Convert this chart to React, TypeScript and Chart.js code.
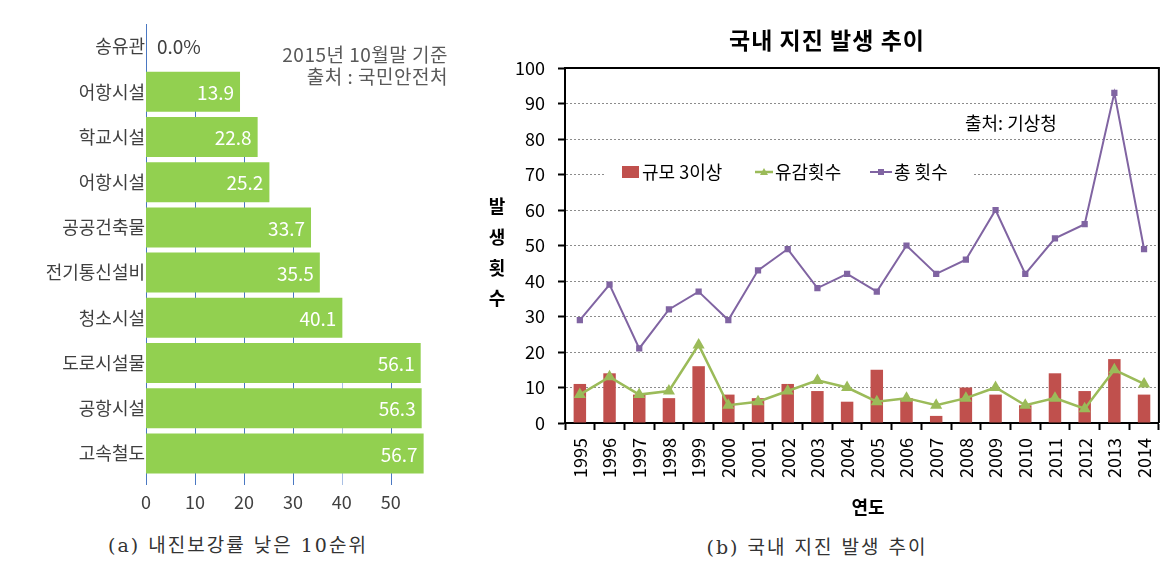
import React, { useEffect, useRef } from "react";
import { Chart, registerables } from "chart.js";

Chart.register(...registerables);

// ---------- Data: (a) 내진보강률 낮은 10순위 ----------
const facilityLabels = [
  "송유관",
  "어항시설",
  "학교시설",
  "어항시설",
  "공공건축물",
  "전기통신설비",
  "청소시설",
  "도로시설물",
  "공항시설",
  "고속철도",
];
// bar lengths as drawn in the reference picture
const reinforcementRates = [0, 19.2, 22.8, 25.2, 33.7, 35.5, 40.1, 56.1, 56.3, 56.7];
// value texts printed on the bars in the reference
const rateLabels = ["0.0%", "13.9", "22.8", "25.2", "33.7", "35.5", "40.1", "56.1", "56.3", "56.7"];
const rateTicks = [0, 10, 20, 30, 40, 50];
const leftNotes = ["2015년 10월말 기준", "출처 : 국민안전처"];
const leftCaption = "(a) 내진보강률 낮은 10순위";

// ---------- Data: (b) 국내 지진 발생 추이 ----------
const years = [
  "1995", "1996", "1997", "1998", "1999", "2000", "2001", "2002", "2003", "2004",
  "2005", "2006", "2007", "2008", "2009", "2010", "2011", "2012", "2013", "2014",
];
const magnitude3Plus = [11, 14, 8, 7, 16, 8, 7, 11, 9, 6, 15, 7, 2, 10, 8, 5, 14, 9, 18, 8];
const feltCounts = [8, 13, 8, 9, 22, 5, 6, 9, 12, 10, 6, 7, 5, 7, 10, 5, 7, 4, 15, 11];
const totalCounts = [29, 39, 21, 32, 37, 29, 43, 49, 38, 42, 37, 50, 42, 46, 60, 42, 52, 56, 93, 49];
const seriesNames = ["규모 3이상", "유감횟수", "총 횟수"];
const rightTitle = "국내 지진 발생 추이";
const rightSource = "출처: 기상청";
const yTitleChars = ["발", "생", "횟", "수"];
const xTitle = "연도";
const rightCaption = "(b) 국내 지진 발생 추이";

const FONT = "'Noto Sans CJK KR', 'Noto Sans', sans-serif";

const leftDecor = {
  id: "leftDecor",
  beforeDatasetsDraw(chart: any) {
    const { ctx, chartArea, scales } = chart;
    const x = scales.x;
    const y = scales.y;
    const data = chart.data.datasets[0].data as number[];
    ctx.save();
    ctx.lineWidth = 1;
    // grid lines only show below the first bar that clearly passes them
    for (const t of rateTicks) {
      if (t === 0) continue;
      let idx = data.findIndex((v) => v > t + 0.5);
      if (idx < 0) idx = data.length - 1;
      const yStart = y.getPixelForValue(idx);
      const px = Math.round(x.getPixelForValue(t)) + 0.5;
      ctx.strokeStyle = t === 40 ? "#a9c0e4" : "#4a78c2";
      ctx.beginPath();
      ctx.moveTo(px, yStart);
      ctx.lineTo(px, chartArea.bottom + 9);
      ctx.stroke();
    }
    ctx.strokeStyle = "#4a78c2";
    const x0 = Math.round(x.getPixelForValue(0)) + 0.5;
    ctx.beginPath();
    ctx.moveTo(x0, chartArea.top);
    ctx.lineTo(x0, chartArea.bottom + 9);
    ctx.stroke();
    ctx.restore();
  },
  afterDatasetsDraw(chart: any) {
    const { ctx } = chart;
    const meta = chart.getDatasetMeta(0);
    const data = chart.data.datasets[0].data as number[];
    ctx.save();
    ctx.font = `19px ${FONT}`;
    ctx.textBaseline = "middle";
    meta.data.forEach((bar: any, i: number) => {
      const v = data[i];
      if (v > 0) {
        ctx.fillStyle = "#ffffff";
        ctx.textAlign = "right";
        ctx.fillText(rateLabels[i], bar.x - 6, bar.y + 1);
      } else {
        ctx.fillStyle = "#404040";
        ctx.textAlign = "left";
        ctx.fillText(rateLabels[i], bar.x + 11, bar.y);
      }
    });
    ctx.fillStyle = "#595959";
    ctx.textAlign = "right";
    ctx.font = `19px ${FONT}`;
    (ctx as any).letterSpacing = "0.5px";
    ctx.fillText(leftNotes[0], 448, 55);
    ctx.fillText(leftNotes[1], 448, 77);
    ctx.restore();
  },
};

const rightDecor = {
  id: "rightDecor",
  beforeDatasetsDraw(chart: any) {
    const { ctx } = chart;
    const ds = chart.data.datasets;
    ctx.save();
    // legend
    ctx.fillStyle = "#ffffff";
    ctx.fillRect(134, 161, 368, 24);
    const cy = 172;
    ctx.font = `18px ${FONT}`;
    ctx.textBaseline = "middle";
    ctx.textAlign = "left";
    ctx.fillStyle = ds[0].backgroundColor;
    ctx.fillRect(152, 166, 17, 12);
    ctx.fillStyle = "#000";
    ctx.fillText(ds[0].label, 172, cy);
    ctx.strokeStyle = ds[1].borderColor;
    ctx.lineWidth = 2.5;
    ctx.beginPath();
    ctx.moveTo(285, cy);
    ctx.lineTo(303, cy);
    ctx.stroke();
    ctx.fillStyle = ds[1].borderColor;
    ctx.beginPath();
    ctx.moveTo(294, cy - 4);
    ctx.lineTo(298, cy + 3);
    ctx.lineTo(290, cy + 3);
    ctx.closePath();
    ctx.fill();
    ctx.fillStyle = "#000";
    ctx.fillText(ds[1].label, 305, cy);
    ctx.strokeStyle = ds[2].borderColor;
    ctx.lineWidth = 2;
    ctx.beginPath();
    ctx.moveTo(400, cy);
    ctx.lineTo(422, cy);
    ctx.stroke();
    ctx.fillStyle = ds[2].borderColor;
    ctx.fillRect(408, cy - 3, 6, 6);
    ctx.fillStyle = "#000";
    ctx.fillText(ds[2].label, 424, cy);
    ctx.restore();
  },
  afterDraw(chart: any) {
    const { ctx, chartArea } = chart;
    ctx.save();
    ctx.strokeStyle = "#000";
    ctx.lineWidth = 2;
    ctx.beginPath();
    ctx.moveTo(chartArea.left - 1, chartArea.top);
    ctx.lineTo(chartArea.right, chartArea.top);
    ctx.lineTo(chartArea.right, chartArea.bottom);
    ctx.stroke();
    ctx.fillStyle = "#000";
    ctx.textBaseline = "middle";
    ctx.textAlign = "center";
    ctx.font = `bold 23px ${FONT}`;
    (ctx as any).letterSpacing = "1px";
    ctx.fillText(rightTitle, 357, 40);
    (ctx as any).letterSpacing = "0px";
    ctx.font = `18px ${FONT}`;
    ctx.textAlign = "left";
    ctx.fillText(rightSource, 495, 123);
    ctx.font = `bold 18px ${FONT}`;
    ctx.textAlign = "center";
    const ys = [206, 237, 268, 298];
    yTitleChars.forEach((c, i) => ctx.fillText(c, 27, ys[i]));
    ctx.fillText(xTitle, 398, 507);
    ctx.restore();
  },
};

export default function App() {
  const leftRef = useRef<HTMLCanvasElement>(null);
  const rightRef = useRef<HTMLCanvasElement>(null);

  useEffect(() => {
    const left = new Chart(leftRef.current as HTMLCanvasElement, {
      type: "bar",
      data: {
        labels: facilityLabels,
        datasets: [
          {
            label: "내진보강률",
            data: reinforcementRates,
            backgroundColor: "#92D050",
            barPercentage: 0.885,
            categoryPercentage: 1,
          },
        ],
      },
      options: {
        indexAxis: "y",
        responsive: false,
        animation: false,
        layout: { padding: { top: 24, right: 35, left: 0, bottom: 0 } },
        plugins: { legend: { display: false }, tooltip: { enabled: false } },
        scales: {
          x: {
            min: 0,
            max: 58,
            ticks: {
              stepSize: 10,
              includeBounds: false,
              color: "#404040",
              font: { size: 18, family: FONT },
              padding: 15,
            },
            grid: { display: false, drawTicks: false },
            border: { display: false },
            afterFit: (s: any) => {
              s.height = 44;
            },
          },
          y: {
            ticks: { color: "#404040", font: { size: 18, family: FONT }, padding: 1 },
            grid: { display: false, drawTicks: false },
            border: { display: false },
            afterFit: (s: any) => {
              s.width = 146;
            },
          },
        },
      } as any,
      plugins: [leftDecor],
    });

    const right = new Chart(rightRef.current as HTMLCanvasElement, {
      type: "bar",
      data: {
        labels: years,
        datasets: [
          {
            type: "bar",
            label: seriesNames[0],
            data: magnitude3Plus,
            backgroundColor: "#C0504D",
            barPercentage: 0.42,
            categoryPercentage: 1,
            order: 3,
          },
          {
            type: "line",
            label: seriesNames[1],
            data: feltCounts,
            borderColor: "#9BBB59",
            backgroundColor: "#9BBB59",
            borderWidth: 2.5,
            pointStyle: "triangle",
            pointRadius: 4.5,
            pointBackgroundColor: "#9BBB59",
            pointBorderColor: "#9BBB59",
            tension: 0,
            order: 2,
          },
          {
            type: "line",
            label: seriesNames[2],
            data: totalCounts,
            borderColor: "#8064A2",
            backgroundColor: "#8064A2",
            borderWidth: 2,
            pointStyle: "rect",
            pointRadius: 3,
            pointBackgroundColor: "#8064A2",
            pointBorderColor: "#8064A2",
            tension: 0,
            order: 1,
          },
        ],
      },
      options: {
        responsive: false,
        animation: false,
        layout: { padding: { top: 68, right: 14, left: 0, bottom: 0 } },
        plugins: { legend: { display: false }, tooltip: { enabled: false } },
        scales: {
          x: {
            offset: true,
            grid: {
              display: true,
              offset: true,
              drawOnChartArea: false,
              drawTicks: true,
              tickLength: 7,
              tickWidth: 2,
              tickColor: "#000",
              color: "#000",
            },
            border: { display: true, color: "#000", width: 2 },
            ticks: {
              autoSkip: false,
              minRotation: 90,
              maxRotation: 90,
              color: "#000",
              font: { size: 18, family: FONT },
              padding: 8,
            },
            afterFit: (s: any) => {
              s.height = 97;
            },
          },
          y: {
            min: 0,
            max: 100,
            ticks: {
              stepSize: 10,
              color: "#000",
              font: { size: 18, family: FONT },
              padding: 13,
            },
            grid: {
              color: "#8c8c8c",
              lineWidth: 1,
              tickColor: "#000",
              tickLength: 7,
              tickWidth: 2,
            },
            border: { display: true, color: "#000", width: 2, dash: [2, 2] },
            afterFit: (s: any) => {
              s.width = 95;
            },
          },
        },
      } as any,
      plugins: [rightDecor],
    });

    return () => {
      left.destroy();
      right.destroy();
    };
  }, []);

  const captionStyle: React.CSSProperties = {
    position: "absolute",
    width: 400,
    textAlign: "center",
    fontFamily: "'DejaVu Serif', 'Noto Sans CJK KR', serif",
    fontSize: 19,
    letterSpacing: "2px",
    lineHeight: "24px",
    color: "#333",
    whiteSpace: "pre",
  };

  return (
    <div
      style={{
        position: "absolute",
        left: 0,
        top: 0,
        width: 1174,
        height: 570,
        background: "#fff",
        overflow: "hidden",
      }}
    >
      <canvas
        ref={leftRef}
        width={465}
        height={520}
        style={{ position: "absolute", left: 0, top: 0 }}
      />
      <canvas
        ref={rightRef}
        width={704}
        height={520}
        style={{ position: "absolute", left: 470, top: 0 }}
      />
      <div style={{ ...captionStyle, left: 38, top: 533 }}>{leftCaption}</div>
      <div style={{ ...captionStyle, left: 617, top: 535 }}>{rightCaption}</div>
    </div>
  );
}
